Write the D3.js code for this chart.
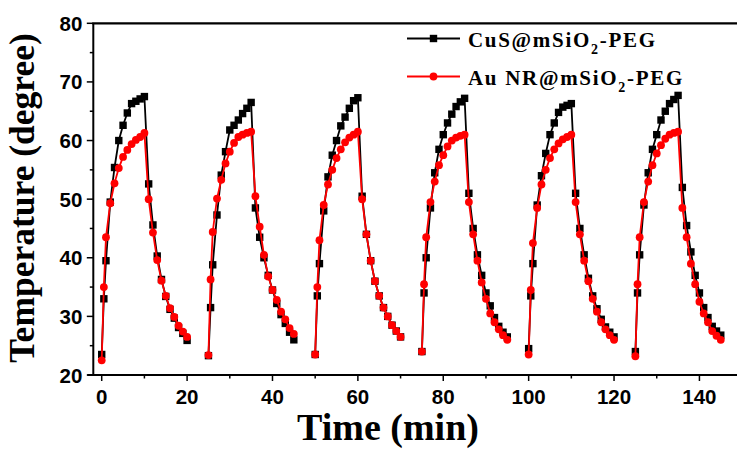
<!DOCTYPE html>
<html>
<head>
<meta charset="utf-8">
<script src="https://cdn.jsdelivr.net/npm/d3@7"></script>
<style>
  body { margin: 0; background: #fff; }
  svg { display: block; }
</style>
</head>
<body>
<div id="chart"></div>
<script>
// Time points inside one heating/cooling cycle (min)
const timeOffsets = [0, 0.5, 1, 2, 3, 4, 5, 6, 7, 8, 9, 10, 11, 12, 13, 14, 15, 16, 17, 18, 19, 20];
const cycleStarts = [0, 25, 50, 75, 100, 125];

const cusCycles = [
  [23.5, 33.0, 39.5, 49.5, 55.4, 60.0, 62.6, 64.7, 66.3, 66.7, 67.1, 67.5, 52.6, 45.6, 40.3, 36.3, 33.4, 31.2, 29.7, 28.1, 27.1, 25.9],
  [23.3, 31.5, 38.8, 47.3, 54.1, 58.1, 61.8, 62.6, 63.5, 64.6, 65.5, 66.5, 48.5, 43.5, 40.0, 37.0, 34.5, 32.2, 30.3, 28.8, 27.3, 26.0],
  [23.5, 33.5, 39.0, 48.0, 53.8, 57.5, 60.0, 62.5, 64.0, 65.5, 66.8, 67.3, 50.5, 44.0, 39.5, 36.0, 33.5, 31.5, 30.0, 28.5, 27.5, 26.5],
  [24.0, 34.0, 40.0, 48.5, 54.5, 58.5, 61.0, 63.0, 64.5, 65.8, 66.6, 67.2, 51.0, 45.0, 40.5, 37.0, 34.0, 31.8, 29.8, 28.3, 27.3, 26.5],
  [24.5, 33.5, 39.0, 49.0, 54.0, 57.8, 61.0, 63.0, 64.8, 65.7, 66.0, 66.3, 51.0, 45.0, 40.5, 36.5, 33.5, 31.3, 29.5, 28.2, 27.3, 26.5],
  [24.0, 34.0, 40.5, 49.0, 54.5, 58.5, 61.0, 63.5, 65.0, 66.3, 67.0, 67.7, 52.0, 45.5, 41.0, 37.0, 34.0, 31.5, 29.8, 28.3, 27.5, 26.8]
];

const auCycles = [
  [22.5, 35.0, 43.5, 49.3, 52.7, 55.3, 57.2, 58.4, 59.4, 60.1, 60.6, 61.3, 50.0, 44.3, 39.6, 36.1, 33.5, 31.4, 29.9, 28.4, 27.4, 26.5],
  [23.4, 36.3, 44.4, 50.1, 53.3, 56.1, 58.1, 59.6, 60.6, 61.0, 61.3, 61.5, 50.5, 45.3, 40.5, 36.8, 34.5, 32.8, 30.8, 29.5, 28.0, 27.0],
  [23.5, 35.0, 43.0, 49.0, 52.5, 55.0, 57.0, 58.5, 59.7, 60.5, 61.0, 61.5, 50.0, 44.0, 39.5, 36.0, 33.5, 31.5, 30.0, 28.5, 27.5, 26.5],
  [24.0, 35.5, 43.5, 49.5, 53.0, 55.8, 57.5, 59.0, 60.0, 60.5, 60.8, 61.0, 49.5, 44.0, 39.5, 35.8, 33.0, 30.5, 29.0, 27.8, 26.8, 26.0],
  [23.5, 34.5, 42.5, 48.5, 52.5, 55.0, 57.0, 58.5, 59.5, 60.2, 60.6, 61.0, 49.5, 44.0, 39.5, 36.0, 33.0, 30.8, 29.0, 27.8, 26.8, 26.0],
  [23.2, 35.5, 43.5, 49.5, 53.0, 55.8, 57.8, 59.2, 60.3, 61.0, 61.3, 61.5, 48.5, 43.5, 39.0, 35.5, 32.5, 30.5, 29.0, 27.5, 26.7, 26.0]
];

const xTicks = [0, 20, 40, 60, 80, 100, 120, 140];
const xMinorTicks = [10, 30, 50, 70, 90, 110, 130];
const yTicks = [20, 30, 40, 50, 60, 70, 80];
const yMinorTicks = [25, 35, 45, 55, 65, 75];

const width = 737, height = 450;
const margin = { top: 23.3, right: 0, bottom: 75, left: 93.3 };

const svg = d3.select('#chart').append('svg')
  .attr('width', width)
  .attr('height', height);

const x = d3.scaleLinear().domain([-1.97, 148.8]).range([margin.left, width - margin.right]);
const y = d3.scaleLinear().domain([20, 80]).range([height - margin.bottom, margin.top]);

const tickFont = '"Liberation Sans", Arial, sans-serif';
const titleFont = '"Liberation Serif", "Times New Roman", serif';

// Build series from cycles
function buildSeries(cycles) {
  return cycles.map((temps, i) => temps.map((t, j) => ({ time: cycleStarts[i] + timeOffsets[j], temp: t })));
}
const series = [
  { name: 'CuS', color: '#000', shape: 'square', cycles: buildSeries(cusCycles) },
  { name: 'Au', color: '#ff0000', shape: 'circle', cycles: buildSeries(auCycles) }
];

const line = d3.line().x(d => x(d.time)).y(d => y(d.temp));

series.forEach(s => {
  const g = svg.append('g');
  s.cycles.forEach(c => {
    g.append('path')
      .datum(c)
      .attr('fill', 'none')
      .attr('stroke', s.color)
      .attr('stroke-width', 1.8)
      .attr('d', line);
    if (s.shape === 'square') {
      g.selectAll(null).data(c).enter().append('rect')
        .attr('x', d => x(d.time) - 3.7)
        .attr('y', d => y(d.temp) - 3.7)
        .attr('width', 7.4)
        .attr('height', 7.4)
        .attr('fill', s.color);
    } else {
      g.selectAll(null).data(c).enter().append('circle')
        .attr('cx', d => x(d.time))
        .attr('cy', d => y(d.temp))
        .attr('r', 3.9)
        .attr('fill', s.color);
    }
  });
});

// Axes
const axisColor = '#000';
const xAxis = svg.append('g').attr('transform', `translate(0,${y(20)})`);
xAxis.append('line')
  .attr('x1', x.range()[0] - 6).attr('x2', width)
  .attr('stroke', axisColor).attr('stroke-width', 2);
xAxis.selectAll('.major').data(xTicks).enter().append('line')
  .attr('x1', d => x(d)).attr('x2', d => x(d))
  .attr('y1', 0).attr('y2', 6)
  .attr('stroke', axisColor).attr('stroke-width', 1.5);
xAxis.selectAll('.minor').data(xMinorTicks).enter().append('line')
  .attr('x1', d => x(d)).attr('x2', d => x(d))
  .attr('y1', 0).attr('y2', 3.5)
  .attr('stroke', axisColor).attr('stroke-width', 1.5);
xAxis.selectAll('text').data(xTicks).enter().append('text')
  .attr('x', d => x(d))
  .attr('y', 29)
  .attr('text-anchor', 'middle')
  .style('font-family', tickFont)
  .style('font-weight', 'bold')
  .style('font-size', '20.5px')
  .text(d => d);

const yAxis = svg.append('g').attr('transform', `translate(${x.range()[0]},0)`);
yAxis.append('line')
  .attr('y1', y(80)).attr('y2', y(20))
  .attr('stroke', axisColor).attr('stroke-width', 2);
yAxis.selectAll('.major').data(yTicks).enter().append('line')
  .attr('y1', d => y(d)).attr('y2', d => y(d))
  .attr('x1', 0).attr('x2', -6.5)
  .attr('stroke', axisColor).attr('stroke-width', 1.5);
yAxis.selectAll('.minor').data(yMinorTicks).enter().append('line')
  .attr('y1', d => y(d)).attr('y2', d => y(d))
  .attr('x1', 0).attr('x2', -3.5)
  .attr('stroke', axisColor).attr('stroke-width', 1.5);
yAxis.selectAll('text').data(yTicks).enter().append('text')
  .attr('x', -11)
  .attr('y', d => y(d) + 7.5)
  .attr('text-anchor', 'end')
  .style('font-family', tickFont)
  .style('font-weight', 'bold')
  .style('font-size', '20.5px')
  .text(d => d);

// Top border
svg.append('line')
  .attr('x1', x.range()[0] - 1).attr('x2', width)
  .attr('y1', y(80)).attr('y2', y(80))
  .attr('stroke', axisColor).attr('stroke-width', 2.2);

// Axis titles
svg.append('text')
  .attr('x', 388)
  .attr('y', 440)
  .attr('text-anchor', 'middle')
  .style('font-family', titleFont)
  .style('font-weight', 'bold')
  .style('font-size', '38px')
  .text('Time (min)');

svg.append('text')
  .attr('transform', 'translate(34,198) rotate(-90)')
  .attr('text-anchor', 'middle')
  .style('font-family', titleFont)
  .style('font-weight', 'bold')
  .style('font-size', '35.5px')
  .text('Temperature (degree)');

// Legend
const legendRows = [
  { label: 'CuS@mSiO', tail: '-PEG', color: '#000', shape: 'square', y: 38.5 },
  { label: 'Au NR@mSiO', tail: '-PEG', color: '#ff0000', shape: 'circle', y: 76.5 }
];
const legend = svg.append('g');
legendRows.forEach(r => {
  legend.append('line')
    .attr('x1', 407).attr('x2', 460)
    .attr('y1', r.y).attr('y2', r.y)
    .attr('stroke', r.color).attr('stroke-width', 2);
  if (r.shape === 'square') {
    legend.append('rect').attr('x', 429.8).attr('y', r.y - 3.7).attr('width', 7.4).attr('height', 7.4).attr('fill', r.color);
  } else {
    legend.append('circle').attr('cx', 433.5).attr('cy', r.y).attr('r', 3.9).attr('fill', r.color);
  }
  const t = legend.append('text')
    .attr('x', 468)
    .attr('y', r.y + 8.5)
    .style('font-family', titleFont)
    .style('font-weight', 'bold')
    .style('font-size', '21px')
    .style('letter-spacing', '1.7px');
  t.append('tspan').text(r.label);
  t.append('tspan').attr('dy', 7).style('font-size', '14px').text('2');
  t.append('tspan').attr('dy', -7).text(r.tail);
});
</script>
</body>
</html>
